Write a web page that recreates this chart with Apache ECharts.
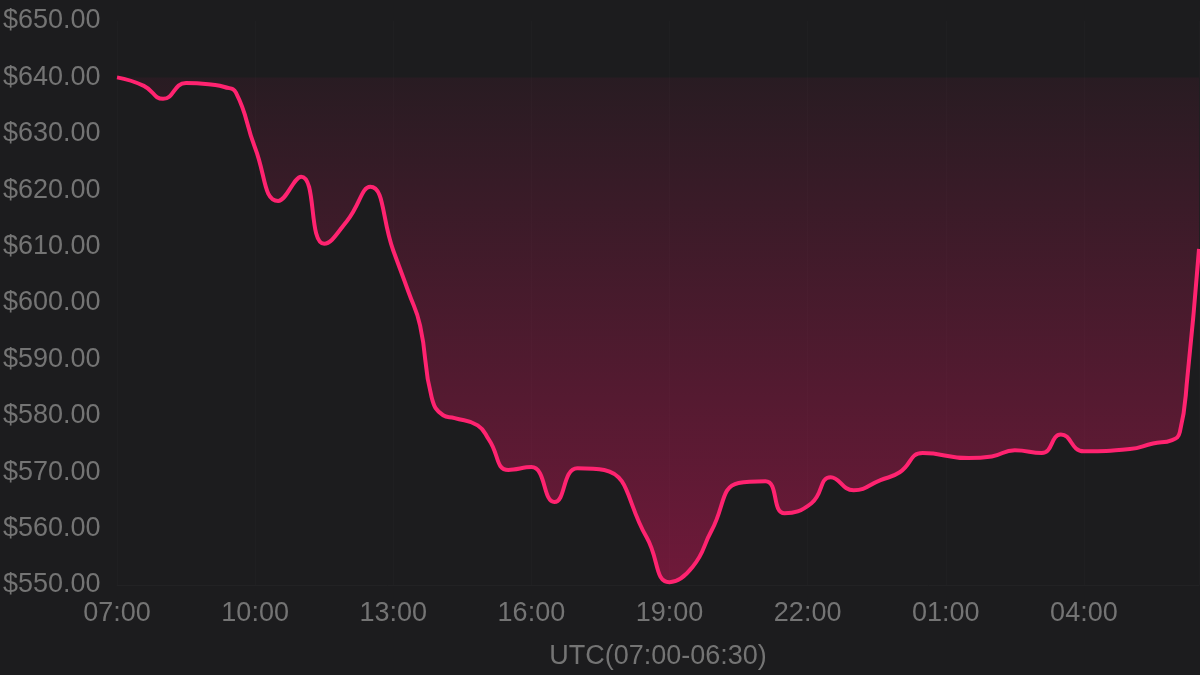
<!DOCTYPE html>
<html>
<head>
<meta charset="utf-8">
<script src="https://cdn.jsdelivr.net/npm/echarts@6/dist/echarts.min.js"></script>
<style>
  html, body { margin: 0; padding: 0; background: #1c1c1e; }
  #chart { width: 1200px; height: 675px; }
</style>
</head>
<body>
<div id="chart"></div>
<script>
// price samples (UTC clock time, USD)
const times = [
  '07:00', '07:35', '08:00', '08:30', '09:05', '09:20', '09:35', '10:00', '10:30', '11:00',
  '11:30', '12:00', '12:30', '13:00', '13:20', '13:35', '13:50', '14:05', '14:20', '14:50',
  '15:05', '15:30', '16:00', '16:30', '17:00', '17:35', '18:30', '19:00', '19:30', '19:55',
  '20:30', '21:05', '21:30', '22:05', '22:30', '23:00', '23:35', '00:00', '00:30', '01:30',
  '02:00', '02:30', '03:05', '03:30', '04:00', '05:00', '05:30', '05:55', '06:05', '06:15',
  '06:30'
];
const prices = [
  640.0, 638.5, 636.2, 639.0, 638.7, 638.3, 637.3, 627.5, 618.1, 622.4,
  610.5, 614.6, 620.6, 609.3, 601.9, 596.0, 583.3, 580.1, 579.6, 578.3,
  575.7, 570.4, 570.9, 564.7, 570.7, 570.4, 558.5, 550.5, 553.2, 559.7,
  568.1, 568.4, 562.7, 564.5, 569.1, 566.8, 568.6, 570.0, 573.4, 572.5,
  572.8, 573.9, 573.4, 576.7, 573.7, 574.1, 575.1, 575.7, 577.1, 587.0,
  609.6
];
const startHour = 7;
const baseline = 640;
const axisName = 'UTC(07:00-06:30)';

// hours since 07:00
function toOffset(t) {
  const [h, m] = t.split(':').map(Number);
  return ((h - startHour + 24) % 24) + m / 60;
}
function pad(n) { return (n < 10 ? '0' : '') + n; }

const points = times.map((t, i) => [toOffset(t), prices[i]]);

const textColor = '#747474';
const fontFamily = '"Liberation Sans", Arial, sans-serif';

const chart = echarts.init(document.getElementById('chart'));
chart.setOption({
  backgroundColor: '#1c1c1e',
  animation: false,
  grid: { left: 116, right: 1, top: 21, bottom: 90 },
  xAxis: {
    type: 'value',
    min: 0,
    max: 23.5,
    interval: 3,
    name: axisName,
    nameLocation: 'middle',
    nameGap: 58,
    nameTextStyle: { color: textColor, fontSize: 27, fontFamily: fontFamily },
    axisLine: { show: true, lineStyle: { color: '#222224', width: 1 } },
    axisTick: { show: false },
    splitLine: { show: true, lineStyle: { color: '#1f1f21', width: 1 } },
    axisLabel: {
      color: textColor,
      fontSize: 27,
      fontFamily: fontFamily,
      margin: 15,
      showMaxLabel: false,
      formatter: v => pad((startHour + v) % 24) + ':00'
    }
  },
  yAxis: {
    type: 'value',
    min: 550,
    max: 650,
    interval: 10,
    axisLine: { show: false },
    axisTick: { show: false },
    splitLine: { show: false },
    axisLabel: {
      color: textColor,
      fontSize: 27,
      fontFamily: fontFamily,
      align: 'left',
      margin: 114,
      formatter: v => '$' + v.toFixed(2)
    }
  },
  series: [{
    type: 'line',
    data: points,
    smooth: 0.5,
    showSymbol: false,
    lineStyle: { color: '#ff2370', width: 4 },
    itemStyle: { color: '#ff2370' },
    areaStyle: {
      origin: baseline,
      color: new echarts.graphic.LinearGradient(0, 0, 0, 1, [
        { offset: 0, color: 'rgba(255,20,105,0.08)' },
        { offset: 1, color: 'rgba(255,20,105,0.52)' }
      ])
    }
  }]
});
</script>
</body>
</html>
